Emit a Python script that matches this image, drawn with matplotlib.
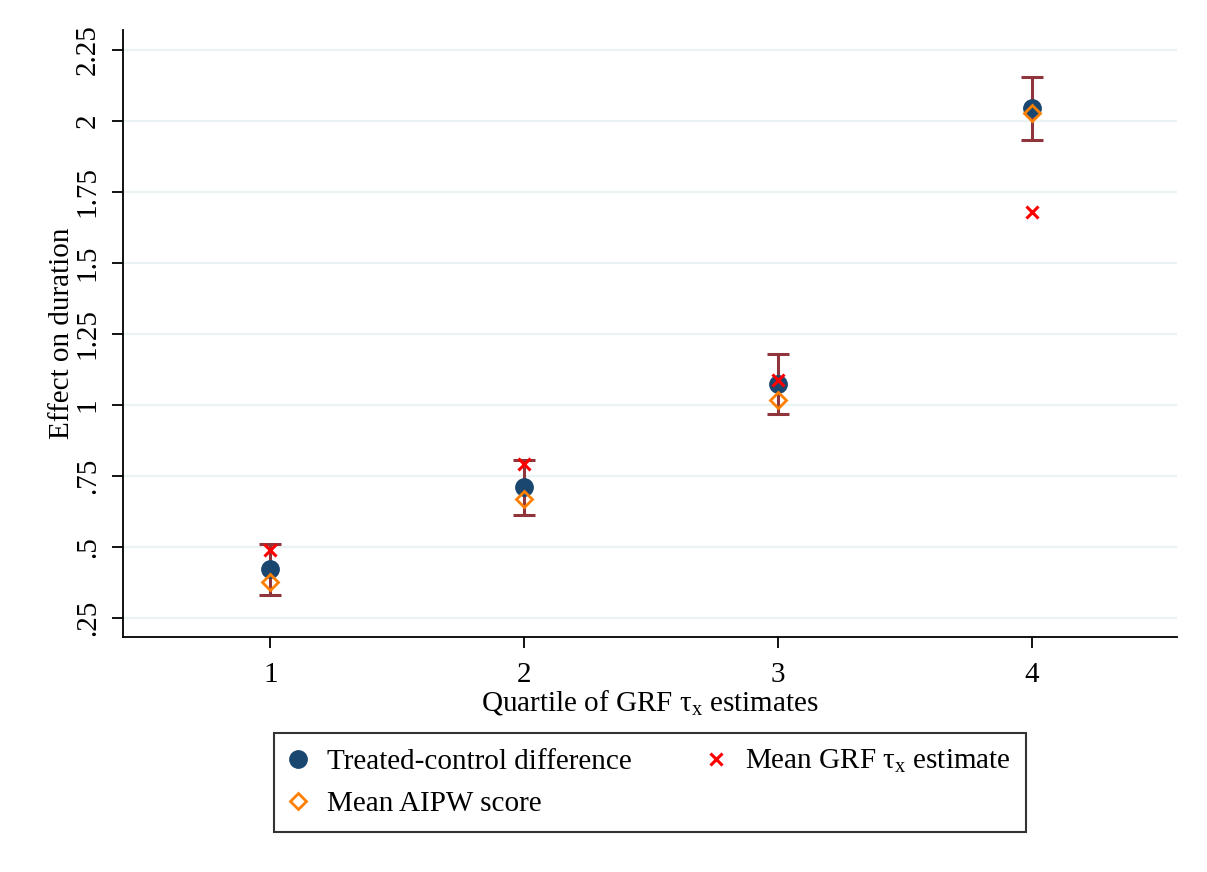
import matplotlib
matplotlib.use("Agg")
import matplotlib.pyplot as plt
from matplotlib.lines import Line2D

plt.rcParams['font.family'] = ['Liberation Serif', 'DejaVu Serif']
plt.rcParams['mathtext.fontset'] = 'custom'
plt.rcParams['mathtext.rm'] = 'Liberation Serif'
plt.rcParams['mathtext.it'] = 'Liberation Serif:italic'

# Quartiles of the GRF estimates
quartiles = [1, 2, 3, 4]
# Treated-control difference with 95% CI
tc_diff = [0.423, 0.711, 1.074, 2.046]
ci_low = [0.331, 0.613, 0.968, 1.933]
ci_high = [0.511, 0.806, 1.180, 2.155]
# Mean AIPW score and mean GRF estimate per quartile
aipw_mean = [0.377, 0.669, 1.018, 2.028]
grf_mean = [0.489, 0.792, 1.088, 1.680]

y_ticks = [0.25, 0.5, 0.75, 1.0, 1.25, 1.5, 1.75, 2.0, 2.25]
y_tick_labels = ['.25', '.5', '.75', '1', '1.25', '1.5', '1.75', '2', '2.25']

navy = '#1a476f'
cranberry = '#90353b'
orange = '#ff8000'
red = '#ff0000'

FS = 21

fig = plt.figure(figsize=(12.07, 8.72), dpi=100)
ax = fig.add_axes([0.1019, 0.2695, 0.8732, 0.6961])

err_lo = [t - l for t, l in zip(tc_diff, ci_low)]
err_hi = [h - t for t, h in zip(tc_diff, ci_high)]
ax.errorbar(quartiles, tc_diff, yerr=[err_lo, err_hi], fmt='none',
            ecolor=cranberry, elinewidth=2.2, capsize=8, capthick=2.2, zorder=2)
ax.plot(quartiles, tc_diff, 'o', color=navy, markersize=12.5, linestyle='none', zorder=3)
ax.plot(quartiles, aipw_mean, 'D', markerfacecolor='none', markeredgecolor=orange,
        markersize=8, markeredgewidth=2, linestyle='none', zorder=4)
ax.plot(quartiles, grf_mean, 'x', color=red, markersize=9, markeredgewidth=2.2,
        linestyle='none', zorder=5)

ax.set_xlim(0.42, 4.57)
ax.set_ylim(0.183, 2.32)
ax.set_xticks(quartiles)
ax.set_xticklabels([str(q) for q in quartiles])
ax.set_yticks(y_ticks)
ax.set_yticklabels(y_tick_labels, rotation=90, va='center')

ax.grid(axis='y', color='#eaf2f3', linewidth=1.6, zorder=0)
ax.set_axisbelow(True)
for s in ['top', 'right']:
    ax.spines[s].set_visible(False)
for s in ['left', 'bottom']:
    ax.spines[s].set_linewidth(1.3)

ax.tick_params(axis='both', direction='out', length=8, width=1.3, labelsize=FS)
ax.tick_params(axis='x', pad=10)
ax.tick_params(axis='y', pad=8)

ax.set_xlabel(r'Quartile of GRF τ$_{\mathrm{x}}$ estimates', fontsize=FS, labelpad=0)
ax.set_ylabel('Effect on duration', fontsize=FS, labelpad=0)

handles = [
    Line2D([], [], marker='o', color=navy, markersize=12.5, linestyle='none'),
    Line2D([], [], marker='D', markerfacecolor='none', markeredgecolor=orange,
           markersize=8, markeredgewidth=2, linestyle='none'),
    Line2D([], [], marker='x', color=red, markersize=9, markeredgewidth=2.2,
           linestyle='none'),
]
labels = ['Treated-control difference', 'Mean AIPW score',
          r'Mean GRF τ$_{\mathrm{x}}$ estimate']
leg = fig.legend(handles, labels, ncol=2, loc='center',
                 bbox_to_anchor=(0.5385, 0.1026), fontsize=FS, frameon=True,
                 fancybox=False, edgecolor='black', handletextpad=0.7,
                 columnspacing=2.6, handlelength=0.6, borderpad=0.5,
                 labelspacing=0.55, borderaxespad=0)
leg.get_frame().set_linewidth(1.5)

fig.savefig('out.png', dpi=100, facecolor='white')
